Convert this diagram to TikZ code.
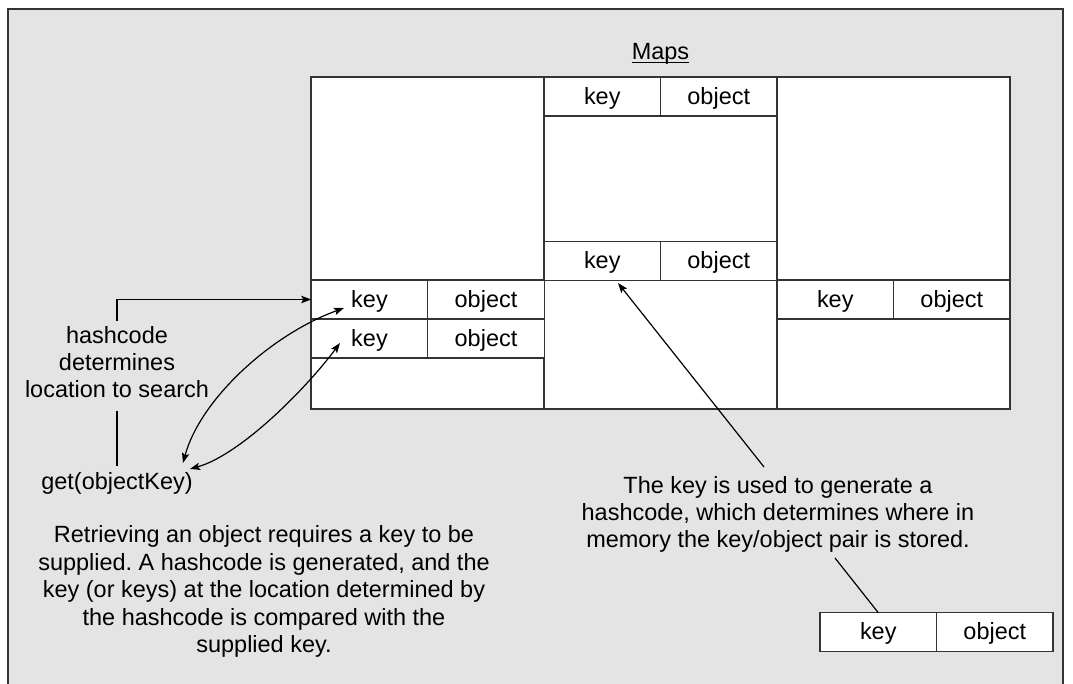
\documentclass[tikz,border=0pt]{standalone}
\usepackage{fontspec}
\setmainfont{Liberation Sans}
\usetikzlibrary{arrows.meta,calc}
\definecolor{bg}{HTML}{E4E4E4}
\definecolor{ln}{HTML}{333333}
\frenchspacing
\begin{document}
\begin{tikzpicture}[x=0.75pt,y=-0.75pt,
  every node/.style={font=\fontsize{17.6pt}{20pt}\selectfont\frenchspacing, inner sep=0pt, outer sep=0pt},
  cell/.style={draw=ln, line width=1.1pt, fill=white, minimum width=87.375pt, minimum height=29pt, text height=14pt, text depth=2.6pt},
  txt/.style={align=center},
  tip/.tip={Stealth[length=7.5pt,width=5.5pt,inset=1.5pt]},
  arr/.style={line width=0.9pt, -tip},
  darr/.style={line width=0.9pt, tip-tip},
  plainline/.style={line width=0.9pt}
]
\useasboundingbox (0,0) rectangle (1073,684);
\fill[white] (0,0) rectangle (1073,684);
% frame
\fill[bg] (8,9) rectangle (1063,684);
\draw[ln, line width=1.5pt] (8,686) -- (8,9) -- (1063,9) -- (1063,686);

% title
\node[anchor=base] (maps) at (660.5,60) {\underline{\smash{Maps}}};

% grid
\draw[draw=ln, line width=1.1pt, fill=white] (311,77) rectangle (1010,409);
\draw[ln, line width=1.1pt] (544,77) -- (544,409) (777,77) -- (777,409) (311,280) -- (1010,280);

% cells
\node[cell] (mk1) at (602.25,96.5) {key};
\node[cell, anchor=west] (mo1) at (mk1.east) {object};
\node[cell] (mk2) at (602.25,261) {key};
\node[cell, anchor=west] (mo2) at (mk2.east) {object};
\node[cell] (lk1) at (369.5,299.5) {key};
\node[cell, anchor=west] (lo1) at (lk1.east) {object};
\node[cell] (lk2) at (369.5,338.5) {key};
\node[cell, anchor=west] (lo2) at (lk2.east) {object};
\node[cell] (rk) at (835.25,299.5) {key};
\node[cell, anchor=west] (ro) at (rk.east) {object};
\node[cell] (bk) at (878.25,632) {key};
\node[cell, anchor=west] (bo) at (bk.east) {object};

% texts
\node[txt] (hcl) at (117,362) {hashcode\\determines\\location to search};
\node (get) at (117,483) {get(objectKey)};
\node[txt] (rtxt) at (778,514.5) {The key is used to generate a\\hashcode, which determines where in\\memory the key/object pair is stored.};
\node[txt, font=\fontsize{17.6pt}{20.6pt}\selectfont\frenchspacing] (ltxt) at (264,591.5) {Retrieving an object requires a key to be\\supplied. A hashcode is generated, and the\\key (or keys) at the location determined by\\the hashcode is compared with the\\supplied key.};

% connectors
\draw[arr] ([yshift=4pt]hcl.north) |- (lk1.west);
\draw[plainline] ([yshift=-10pt]hcl.south) -- ([yshift=4.5pt]get.north);

\coordinate (g1) at (183,463);
\coordinate (k1) at (344,308);
\coordinate (g2) at (190,469);
\coordinate (k2) at (340,343);
\draw[darr] (g1) .. controls (200,400) and (270,335) .. (k1);
\draw[darr] (g2) .. controls (240,455) and (305,390) .. (k2);

\coordinate (rt) at (764,467);
\coordinate (mkt) at (618,283);
\draw[arr] (rt) -- (mkt);

\coordinate (rb) at (835,558);
\draw[plainline] (rb) -- (bk.north);
\end{tikzpicture}
\end{document}
